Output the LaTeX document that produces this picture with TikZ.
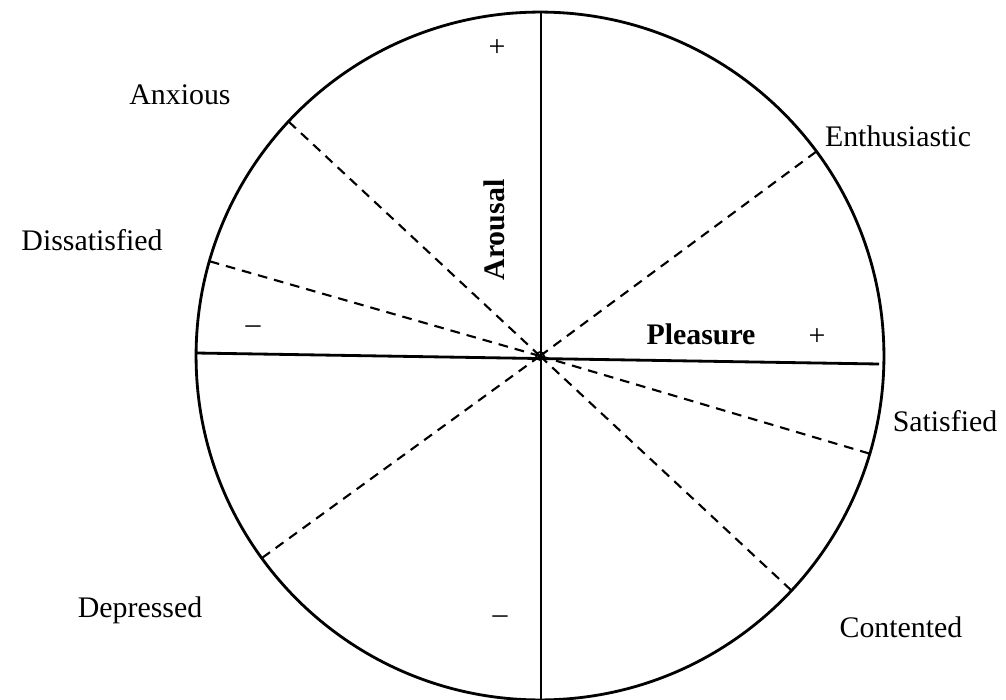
\documentclass[tikz,border=0pt]{standalone}
\usepackage{fontspec}
\setmainfont{Liberation Serif}
\usetikzlibrary{calc}
\begin{document}
\begin{tikzpicture}[x=0.02cm, y=-0.02cm,
  every node/.style={font=\fontsize{17}{20}\selectfont, inner sep=0pt},
  axis/.style={line width=1.6pt},
  spoke/.style={line width=1.2pt, dash pattern=on 5.5pt off 4pt}]
\useasboundingbox (0,0) rectangle (1006,699);
\clip (0,0) rectangle (1006,699);
% circle and the two axes
\coordinate (c) at (540,356);
\coordinate (pl) at (196,353);
\coordinate (pr) at (879,364);
\coordinate (at) at (541,11);
\coordinate (ab) at (541,705);
\draw[axis] (c) circle[radius=6.88cm];
\draw[axis] (pl) -- (pr);
\draw[axis] (at) -- (ab);
\draw[line width=1pt] (c) circle[radius=0.08cm];
% dashed spokes
\foreach \a in {137,164,36.5,-16.5,-43,216}
  \draw[spoke] (c) -- ($(c)+(\a:6.88cm)$);
% labels
\node (arousal) at (494,230) [rotate=90, font=\fontsize{17}{20}\selectfont\bfseries] {Arousal};
\node (pleasure) at (701,334) [font=\fontsize{17}{20}\selectfont\bfseries] {Pleasure};
\node (aplus) at (497,48) {+};
\node (pplus) at (817,337) {+};
\node (pminus) at (253,330) {--};
\node (aminus) at (500,620) {--};
\node (anxious) at (180,95) {Anxious};
\node (dissat) at (92,240) {Dissatisfied};
\node (enthus) at (898,136) {Enthusiastic};
\node (satis) at (945,421) {Satisfied};
\node (depr) at (140,610) {Depressed};
\node (cont) at (901,627) {Contented};
\end{tikzpicture}
\end{document}
